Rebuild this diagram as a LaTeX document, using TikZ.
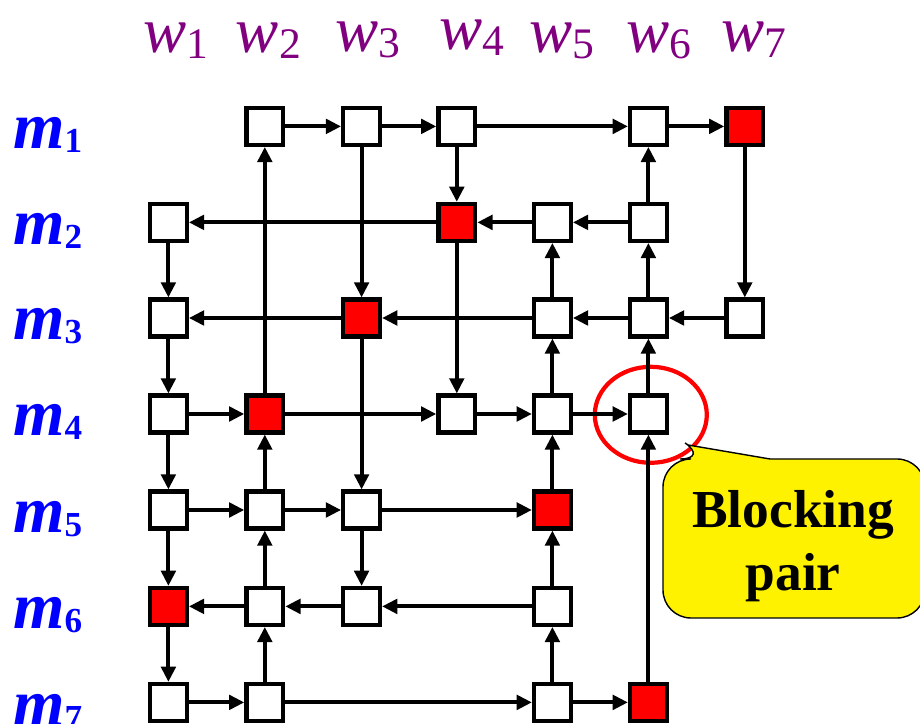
\documentclass[tikz,border=0pt]{standalone}
\usepackage{fontspec}
\setmainfont{Liberation Serif}
\usetikzlibrary{arrows.meta}
\definecolor{wcol}{RGB}{128,0,128}
\newcommand\wsub[1]{\raisebox{-0.15cm}{\fontsize{31}{31}\selectfont\upshape #1}}
\newcommand\msub[1]{\raisebox{-0.1cm}{\fontsize{25}{25}\selectfont\upshape #1}}
\begin{document}
\begin{tikzpicture}[
  cell/.style={draw, line width=3pt, minimum size=0.92cm, inner sep=0pt, fill=white},
  match/.style={cell, fill=red},
  arr/.style={line width=2.9pt, -{Triangle[length=0.38cm,width=0.36cm]}},
  wlab/.style={anchor=base, inner sep=0pt, text=wcol, font=\fontsize{46}{54}\selectfont\itshape},
  mlab/.style={anchor=base, inner sep=0pt, text=blue, font=\fontsize{47}{56}\selectfont\bfseries\itshape},
  callout/.style={line width=1pt, fill=yellow, draw=black}
  ]
\useasboundingbox (0,0) rectangle (23,18.1);
\draw[red, line width=3pt] (16.27,7.73) ellipse [x radius=1.4, y radius=1.2];
\node[wlab] (w1) at (4.40,16.78) {w\wsub{1}};
\node[wlab] (w2) at (6.71,16.78) {w\wsub{2}};
\node[wlab] (w3) at (9.19,16.80) {w\wsub{3}};
\node[wlab] (w4) at (11.80,16.85) {w\wsub{4}};
\node[wlab] (w5) at (14.05,16.78) {w\wsub{5}};
\node[wlab] (w6) at (16.48,16.78) {w\wsub{6}};
\node[wlab] (w7) at (18.85,16.80) {w\wsub{7}};
\node[mlab] (m1) at (1.19,14.38) {m\msub{1}};
\node[mlab] (m2) at (1.19,11.98) {m\msub{2}};
\node[mlab] (m3) at (1.19,9.60) {m\msub{3}};
\node[mlab] (m4) at (1.19,7.20) {m\msub{4}};
\node[mlab] (m5) at (1.19,4.79) {m\msub{5}};
\node[mlab] (m6) at (1.19,2.38) {m\msub{6}};
\node[mlab] (m7) at (1.19,-0.03) {m\msub{7}};
\node[cell] (c12) at (6.62,14.94) {};
\node[cell] (c13) at (9.04,14.94) {};
\node[cell] (c14) at (11.42,14.94) {};
\node[cell] (c16) at (16.21,14.94) {};
\node[match] (c17) at (18.62,14.94) {};
\node[cell] (c21) at (4.21,12.54) {};
\node[match] (c24) at (11.42,12.54) {};
\node[cell] (c25) at (13.81,12.54) {};
\node[cell] (c26) at (16.21,12.54) {};
\node[cell] (c31) at (4.21,10.15) {};
\node[match] (c33) at (9.04,10.15) {};
\node[cell] (c35) at (13.81,10.15) {};
\node[cell] (c36) at (16.21,10.15) {};
\node[cell] (c37) at (18.62,10.15) {};
\node[cell] (c41) at (4.21,7.75) {};
\node[match] (c42) at (6.62,7.75) {};
\node[cell] (c44) at (11.42,7.75) {};
\node[cell] (c45) at (13.81,7.75) {};
\node[cell] (c46) at (16.21,7.75) {};
\node[cell] (c51) at (4.21,5.35) {};
\node[cell] (c52) at (6.62,5.35) {};
\node[cell] (c53) at (9.04,5.35) {};
\node[match] (c55) at (13.81,5.35) {};
\node[match] (c61) at (4.21,2.94) {};
\node[cell] (c62) at (6.62,2.94) {};
\node[cell] (c63) at (9.04,2.94) {};
\node[cell] (c65) at (13.81,2.94) {};
\node[cell] (c71) at (4.21,0.54) {};
\node[cell] (c72) at (6.62,0.54) {};
\node[cell] (c75) at (13.81,0.54) {};
\node[match] (c76) at (16.21,0.54) {};
\draw[arr] (c12) -- (c13);
\draw[arr] (c13) -- (c14);
\draw[arr] (c14) -- (c16);
\draw[arr] (c16) -- (c17);
\draw[arr] (c26) -- (c25);
\draw[arr] (c25) -- (c24);
\draw[arr] (c24) -- (c21);
\draw[arr] (c37) -- (c36);
\draw[arr] (c36) -- (c35);
\draw[arr] (c35) -- (c33);
\draw[arr] (c33) -- (c31);
\draw[arr] (c41) -- (c42);
\draw[arr] (c42) -- (c44);
\draw[arr] (c44) -- (c45);
\draw[arr] (c45) -- (c46);
\draw[arr] (c51) -- (c52);
\draw[arr] (c52) -- (c53);
\draw[arr] (c53) -- (c55);
\draw[arr] (c65) -- (c63);
\draw[arr] (c63) -- (c62);
\draw[arr] (c62) -- (c61);
\draw[arr] (c71) -- (c72);
\draw[arr] (c72) -- (c75);
\draw[arr] (c75) -- (c76);
\draw[arr] (c21) -- (c31);
\draw[arr] (c31) -- (c41);
\draw[arr] (c41) -- (c51);
\draw[arr] (c51) -- (c61);
\draw[arr] (c61) -- (c71);
\draw[arr] (c42) -- (c12);
\draw[arr] (c52) -- (c42);
\draw[arr] (c62) -- (c52);
\draw[arr] (c72) -- (c62);
\draw[arr] (c13) -- (c33);
\draw[arr] (c33) -- (c53);
\draw[arr] (c53) -- (c63);
\draw[arr] (c14) -- (c24);
\draw[arr] (c24) -- (c44);
\draw[arr] (c75) -- (c65);
\draw[arr] (c65) -- (c55);
\draw[arr] (c55) -- (c45);
\draw[arr] (c45) -- (c35);
\draw[arr] (c35) -- (c25);
\draw[arr] (c76) -- (c46);
\draw[arr] (c46) -- (c36);
\draw[arr] (c36) -- (c26);
\draw[arr] (c26) -- (c16);
\draw[arr] (c17) -- (c37);
\draw[callout] (16.575,4.6) [rounded corners=0.7cm] -- (16.575,6.625) -- (17.7,6.625) [sharp corners] -- (17.2,6.975) -- (19.25,6.625) [rounded corners=0.7cm] -- (23.125,6.625) -- (23.125,2.65) -- (16.575,2.65) -- cycle;
\node[font=\fontsize{38}{45}\selectfont\bfseries, align=center, inner sep=0pt] (note) at (19.83,4.44) {Blocking\\pair};
\end{tikzpicture}
\end{document}
